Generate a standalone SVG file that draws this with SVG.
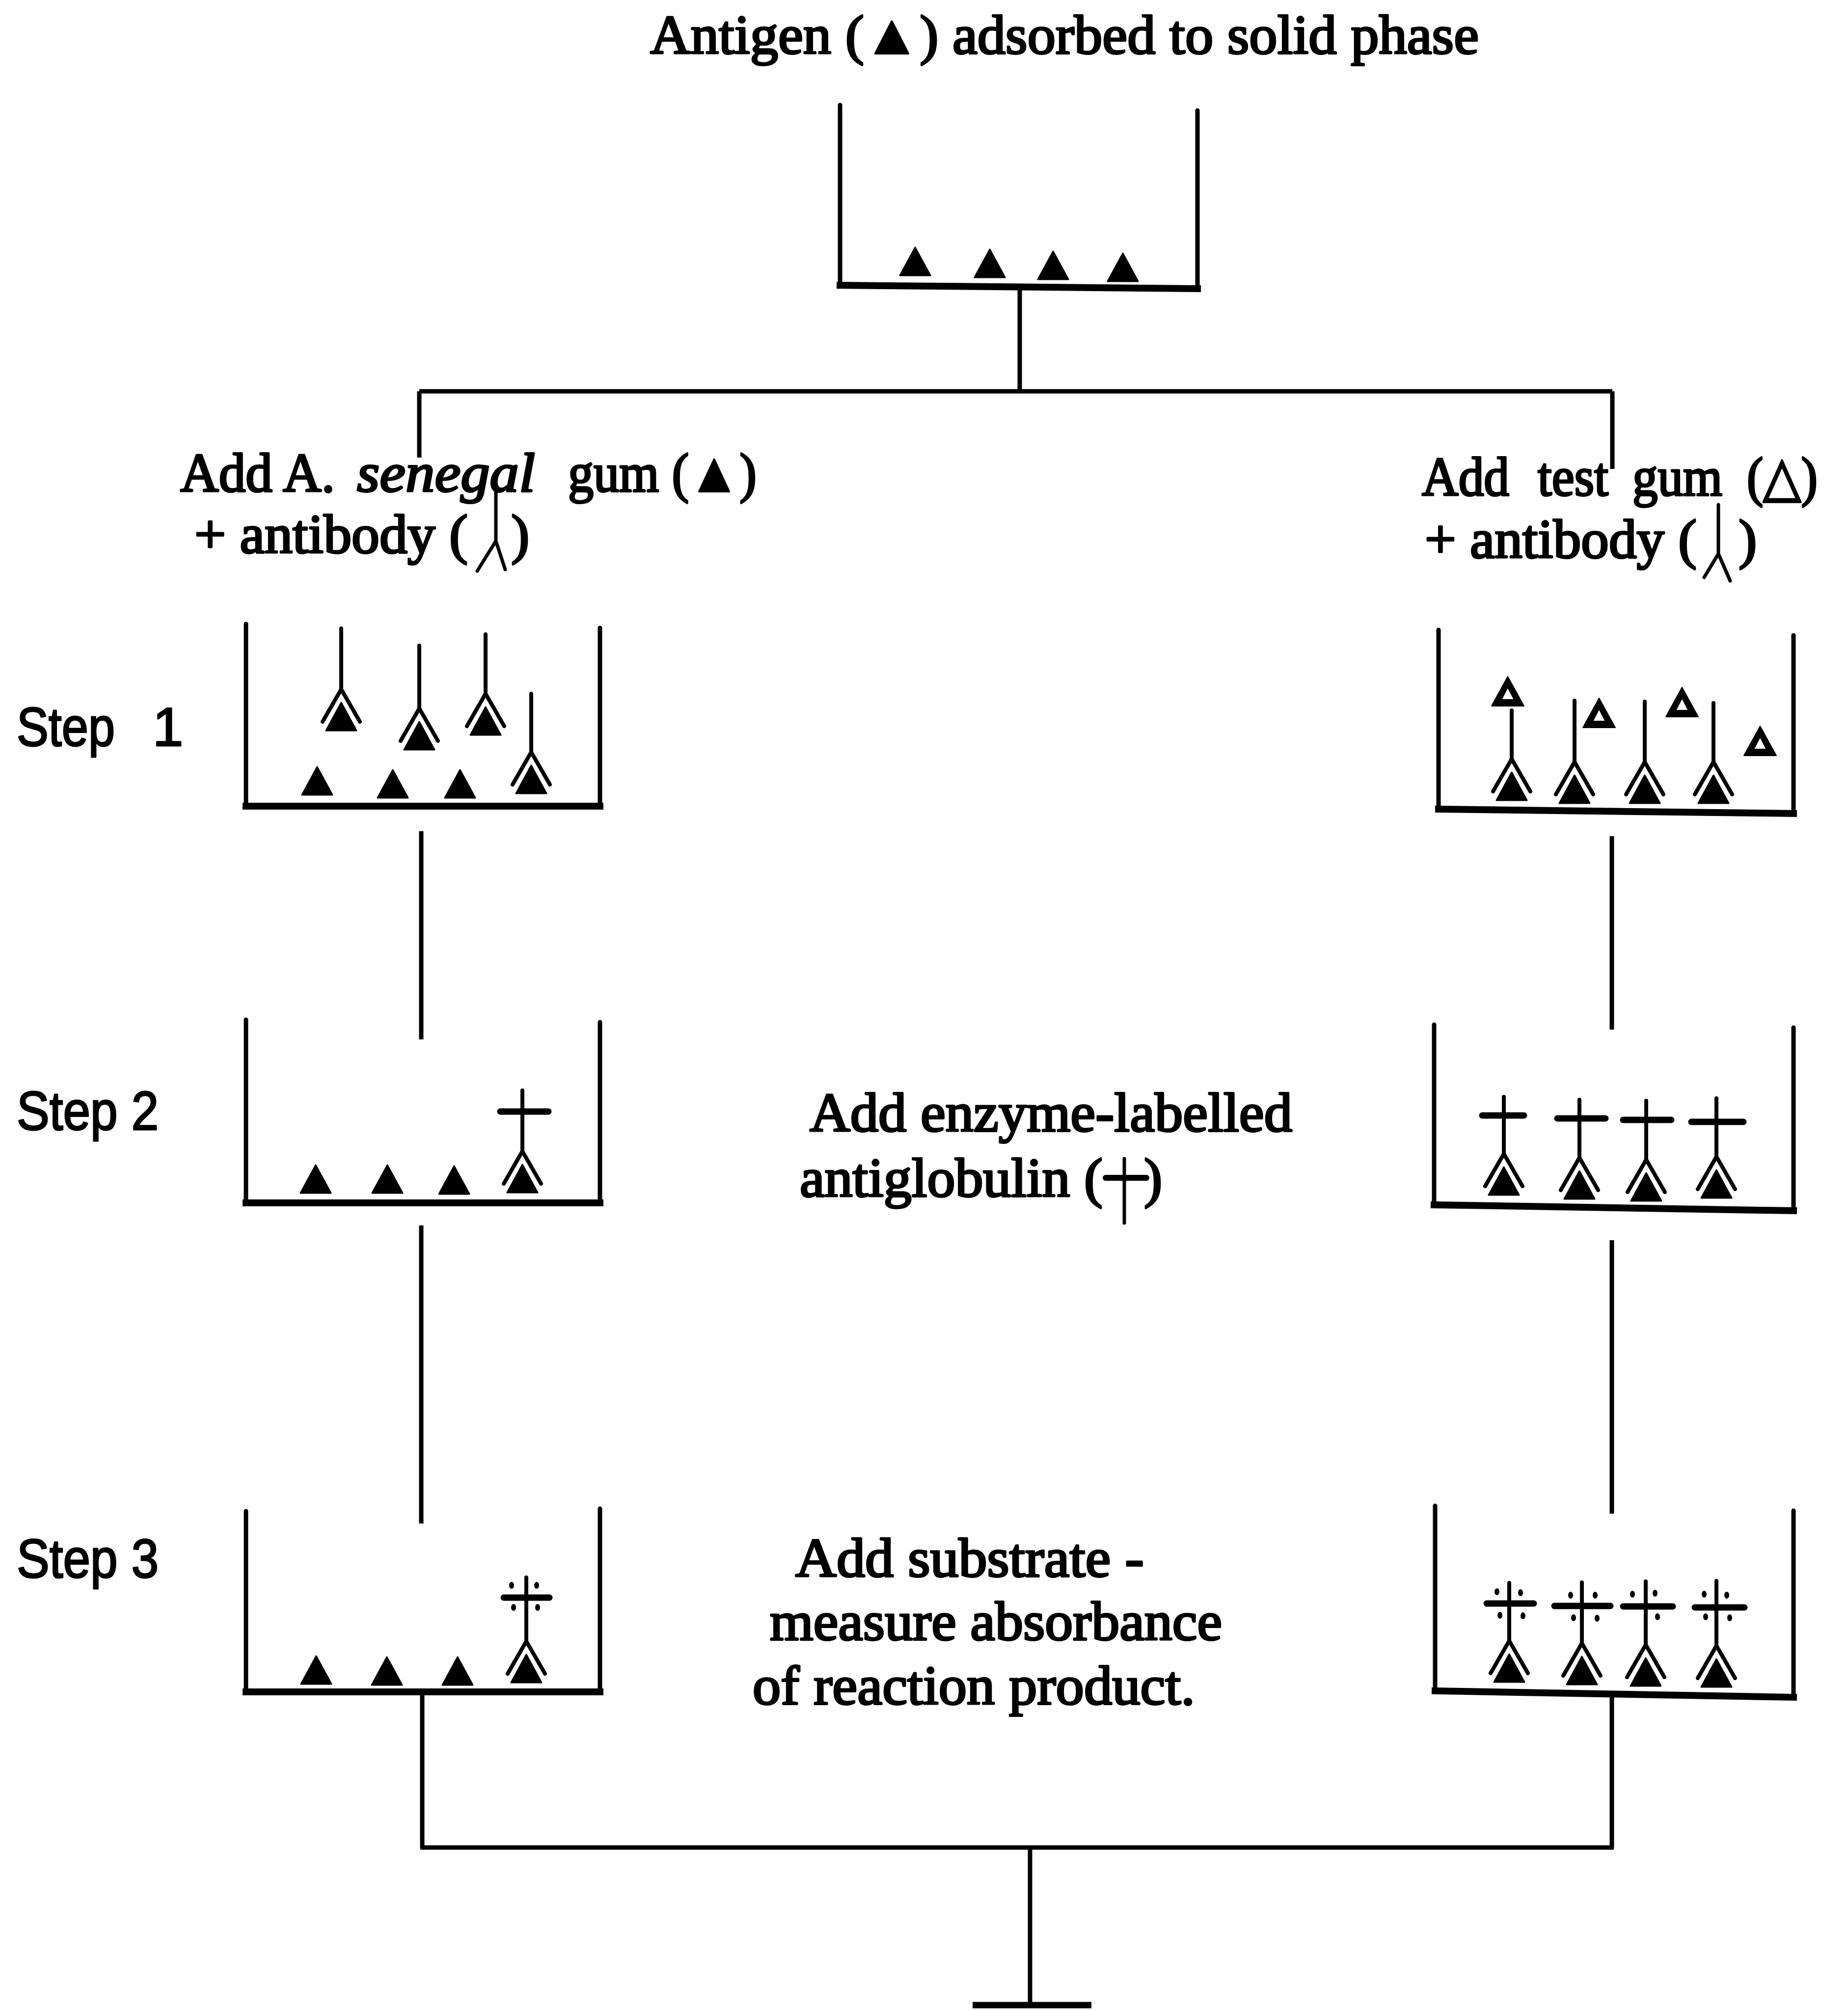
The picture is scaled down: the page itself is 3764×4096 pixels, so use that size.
<svg xmlns="http://www.w3.org/2000/svg" xmlns:xlink="http://www.w3.org/1999/xlink" width="3764" height="4096" viewBox="0 0 3764 4096">
<style>
.t{font-family:"Liberation Serif","Times New Roman",serif;font-size:112px;fill:#000;stroke:#000;stroke-width:4;stroke-linejoin:round}
.s{font-family:"Liberation Sans Narrow","Liberation Sans",Arial,sans-serif;font-size:112px;fill:#000;stroke:#000;stroke-width:3;stroke-linejoin:round}
.wall{fill:none;stroke:#000;stroke-width:9;stroke-linecap:round}
.base{fill:none;stroke:#000;stroke-width:14;stroke-linecap:square}
.conn{fill:none;stroke:#000;stroke-width:9;stroke-linecap:butt}
.stem{fill:none;stroke:#000;stroke-width:8;stroke-linecap:round}
.bar{fill:none;stroke:#000;stroke-width:13;stroke-linecap:round}
.sym{fill:none;stroke:#000;stroke-width:7;stroke-linecap:round;stroke-linejoin:round}
</style>
<defs>
<path id="tri" d="M0,-57 L31,0 L-31,0 Z" fill="#000" stroke="#000" stroke-width="3" stroke-linejoin="round"/>
<path id="otri" d="M0,-60 L33,0 L-33,0 Z M0,-38 L-13,-13 L13,-13 Z" fill="#000" fill-rule="evenodd" stroke="#000" stroke-width="2" stroke-linejoin="round"/>
<g id="ab">
<path d="M-38,66 L0,0 L38,66" fill="none" stroke="#000" stroke-width="8" stroke-linejoin="round" stroke-linecap="round"/>
<use xlink:href="#tri" href="#tri" y="84"/>
</g>
</defs>
<rect width="3764" height="4096" fill="#fff"/>

<g id="connectors">
<path class="conn" d="M2077,587 V797"/>
<path class="conn" d="M854,797 H3284"/>
<path class="conn" d="M854,797 V932"/>
<path class="conn" d="M3284,797 V955"/>
<path class="conn" d="M858,1693 V2117"/>
<path class="conn" d="M858,2496 V3103"/>
<path class="conn" d="M860,3446 V3763"/>
<path class="conn" d="M3283,1703 V2097"/>
<path class="conn" d="M3283,2526 V3083"/>
<path class="conn" d="M3283,3457 V3763"/>
<path class="conn" d="M856,3763 H3287"/>
<path class="conn" d="M2098,3763 V4084"/>
<path class="bar" d="M1981,4084 H2223" style="stroke-linecap:butt"/>
</g>

<g id="title">
<text class="t" x="1324" y="109" font-size="110" textLength="1688" lengthAdjust="spacingAndGlyphs">Antigen (▲) adsorbed to solid phase</text>
</g>

<g id="well-top">
<path class="wall" d="M1711,214 V581"/>
<path class="wall" d="M2439,225 V588"/>
<path class="base" d="M1711,581 L2439,588"/>
<use href="#tri" xlink:href="#tri" x="1864" y="561"/>
<use href="#tri" xlink:href="#tri" x="2016" y="565"/>
<use href="#tri" xlink:href="#tri" x="2145" y="569"/>
<use href="#tri" xlink:href="#tri" x="2287" y="573"/>
</g>

<g id="label-left">
<text class="t" y="1001"><tspan x="367" textLength="315" lengthAdjust="spacingAndGlyphs">Add A.</tspan> <tspan x="727" font-style="italic" textLength="363" lengthAdjust="spacingAndGlyphs">senegal</tspan> <tspan x="1157" textLength="384" lengthAdjust="spacingAndGlyphs">gum (▲)</tspan></text>
<text class="t" y="1126"><tspan x="396" textLength="557" lengthAdjust="spacingAndGlyphs">+ antibody (</tspan> <tspan x="1041">)</tspan></text>
<path class="sym" d="M1010,994 V1102 M972,1163 L1010,1102 L1029,1160"/>
</g>

<g id="label-right">
<text class="t" y="1009"><tspan x="2896" textLength="178" lengthAdjust="spacingAndGlyphs">Add</tspan> <tspan x="3132" textLength="144" lengthAdjust="spacingAndGlyphs">test</tspan> <tspan x="3325" textLength="183" lengthAdjust="spacingAndGlyphs">gum</tspan> <tspan x="3558" textLength="144" lengthAdjust="spacingAndGlyphs">(△)</tspan></text>
<text class="t" y="1136"><tspan x="2902" textLength="554" lengthAdjust="spacingAndGlyphs">+ antibody (</tspan> <tspan x="3541">)</tspan></text>
<path class="sym" d="M3500,1028 V1128 M3471,1176 L3500,1128 L3524,1183"/>
</g>

<g id="step-labels">
<text class="s" x="34" y="1519"><tspan textLength="200" lengthAdjust="spacingAndGlyphs">Step</tspan> <tspan x="311">1</tspan></text>
<text class="s" x="34" y="2301" textLength="289" lengthAdjust="spacingAndGlyphs">Step 2</text>
<text class="s" x="34" y="3213" textLength="289" lengthAdjust="spacingAndGlyphs">Step 3</text>
</g>

<g id="well-step1-left">
<path class="wall" d="M501,1271 V1642"/>
<path class="wall" d="M1222,1279 V1642"/>
<path class="base" d="M501,1642 H1222"/>
<path class="stem" d="M695,1280 V1404 M854,1315 V1443 M989,1292 V1413 M1082,1413 V1532"/>
<use href="#ab" xlink:href="#ab" x="695" y="1404"/>
<use href="#ab" xlink:href="#ab" x="854" y="1443"/>
<use href="#ab" xlink:href="#ab" x="989" y="1413"/>
<use href="#ab" xlink:href="#ab" x="1082" y="1532"/>
<use href="#tri" xlink:href="#tri" x="646" y="1619"/>
<use href="#tri" xlink:href="#tri" x="800" y="1625"/>
<use href="#tri" xlink:href="#tri" x="937" y="1625"/>
</g>

<g id="well-step1-right">
<path class="wall" d="M2930,1283 V1648"/>
<path class="wall" d="M3653,1294 V1657"/>
<path class="base" d="M2930,1648 L3653,1657"/>
<path class="stem" d="M3079,1447 V1546 M3207,1427 V1552 M3350,1429 V1552 M3490,1432 V1552"/>
<use href="#ab" xlink:href="#ab" x="3079" y="1546"/>
<use href="#ab" xlink:href="#ab" x="3207" y="1552"/>
<use href="#ab" xlink:href="#ab" x="3350" y="1552"/>
<use href="#ab" xlink:href="#ab" x="3490" y="1552"/>
<use href="#otri" xlink:href="#otri" x="3071" y="1438"/>
<use href="#otri" xlink:href="#otri" x="3257" y="1482"/>
<use href="#otri" xlink:href="#otri" x="3426" y="1460"/>
<use href="#otri" xlink:href="#otri" x="3585" y="1539"/>
</g>

<g id="well-step2-left">
<path class="wall" d="M501,2077 V2450"/>
<path class="wall" d="M1222,2082 V2450"/>
<path class="base" d="M501,2450 H1222"/>
<use href="#tri" xlink:href="#tri" x="643" y="2430"/>
<use href="#tri" xlink:href="#tri" x="789" y="2430"/>
<use href="#tri" xlink:href="#tri" x="925" y="2432"/>
<path class="stem" d="M1064,2221 V2345"/>
<path class="bar" d="M1019,2264 H1117"/>
<use href="#ab" xlink:href="#ab" x="1064" y="2345"/>
</g>

<g id="label-middle-1">
<text class="t" x="1649" y="2304" textLength="983" lengthAdjust="spacingAndGlyphs">Add enzyme-labelled</text>
<text class="t" y="2437"><tspan x="1629" textLength="617" lengthAdjust="spacingAndGlyphs">antiglobulin (</tspan> <tspan x="2330">)</tspan></text>
<path class="sym" d="M2290,2360 V2491"/>
<path class="bar" d="M2252,2399 H2335" style="stroke-width:12"/>
</g>

<g id="well-step2-right">
<path class="wall" d="M2921,2087 V2454"/>
<path class="wall" d="M3653,2093 V2466"/>
<path class="base" d="M2921,2454 L3653,2466"/>
<path class="stem" d="M3063,2234 V2350 M3217,2240 V2358 M3353,2242 V2362 M3496,2237 V2356"/>
<path class="bar" d="M3019,2272 H3104 M3172,2278 H3270 M3306,2281 H3404 M3445,2285 H3551"/>
<use href="#ab" xlink:href="#ab" x="3063" y="2350"/>
<use href="#ab" xlink:href="#ab" x="3217" y="2358"/>
<use href="#ab" xlink:href="#ab" x="3353" y="2362"/>
<use href="#ab" xlink:href="#ab" x="3496" y="2356"/>
</g>

<g id="well-step3-left">
<path class="wall" d="M501,3078 V3446"/>
<path class="wall" d="M1222,3073 V3446"/>
<path class="base" d="M501,3446 H1222"/>
<use href="#tri" xlink:href="#tri" x="644" y="3430"/>
<use href="#tri" xlink:href="#tri" x="788" y="3432"/>
<use href="#tri" xlink:href="#tri" x="932" y="3432"/>
<path class="stem" d="M1072,3213 V3343"/>
<path class="bar" d="M1026,3254 H1119"/>
<use href="#ab" xlink:href="#ab" x="1072" y="3343"/>
<g fill="#000">
<ellipse cx="1042" cy="3229" rx="5" ry="7"/><ellipse cx="1093" cy="3229" rx="5" ry="7"/>
<ellipse cx="1046" cy="3274" rx="5" ry="7"/><ellipse cx="1095" cy="3274" rx="5" ry="7"/>
</g>
</g>

<g id="label-middle-2">
<text class="t" x="1620" y="3211" textLength="710" lengthAdjust="spacingAndGlyphs">Add substrate -</text>
<text class="t" x="1568" y="3340" textLength="921" lengthAdjust="spacingAndGlyphs">measure absorbance</text>
<text class="t" x="1533" y="3471" textLength="901" lengthAdjust="spacingAndGlyphs">of reaction product.</text>
</g>

<g id="well-step3-right">
<path class="wall" d="M2923,3067 V3444"/>
<path class="wall" d="M3653,3077 V3457"/>
<path class="base" d="M2923,3444 L3653,3457"/>
<path class="stem" d="M3074,3224 V3342 M3222,3223 V3347 M3352,3221 V3350 M3496,3220 V3352"/>
<path class="bar" d="M3028,3266 H3124 M3166,3271 H3280 M3306,3272 H3407 M3452,3274 H3553"/>
<use href="#ab" xlink:href="#ab" x="3074" y="3342"/>
<use href="#ab" xlink:href="#ab" x="3222" y="3347"/>
<use href="#ab" xlink:href="#ab" x="3352" y="3350"/>
<use href="#ab" xlink:href="#ab" x="3496" y="3352"/>
<g fill="#000">
<ellipse cx="3049" cy="3242" rx="5" ry="7"/><ellipse cx="3097" cy="3244" rx="5" ry="7"/>
<ellipse cx="3055" cy="3290" rx="5" ry="7"/><ellipse cx="3102" cy="3291" rx="5" ry="7"/>
<ellipse cx="3199" cy="3249" rx="5" ry="7"/><ellipse cx="3249" cy="3249" rx="5" ry="7"/>
<ellipse cx="3205" cy="3295" rx="5" ry="7"/><ellipse cx="3253" cy="3296" rx="5" ry="7"/>
<ellipse cx="3325" cy="3247" rx="5" ry="7"/><ellipse cx="3371" cy="3245" rx="5" ry="7"/>
<ellipse cx="3376" cy="3293" rx="5" ry="7"/>
<ellipse cx="3471" cy="3247" rx="5" ry="7"/><ellipse cx="3517" cy="3249" rx="5" ry="7"/>
<ellipse cx="3474" cy="3293" rx="5" ry="7"/><ellipse cx="3523" cy="3295" rx="5" ry="7"/>
</g>
</g>
</svg>
